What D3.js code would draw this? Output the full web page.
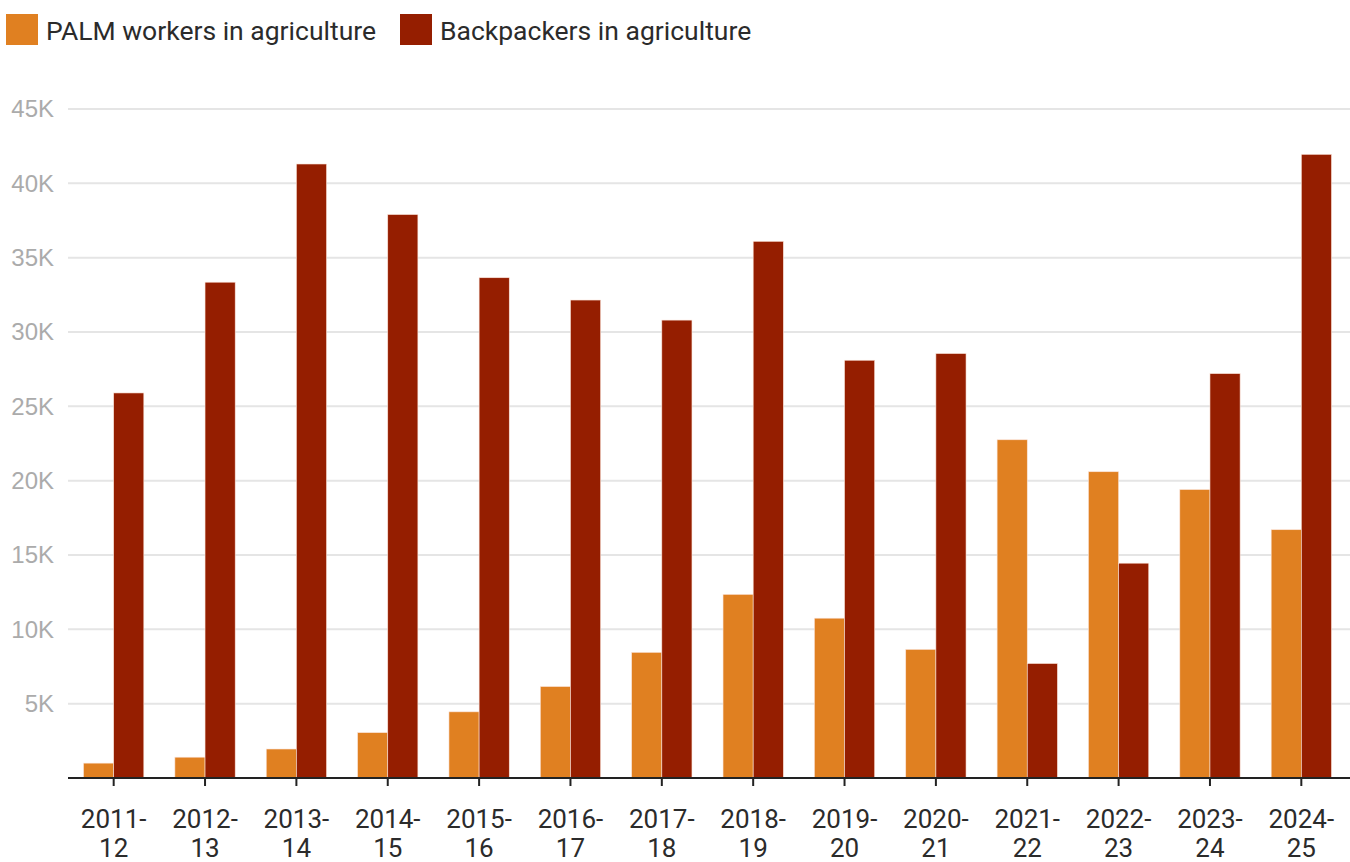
<!DOCTYPE html>
<html>
<head>
<meta charset="utf-8">
<script src="https://cdn.jsdelivr.net/npm/d3@7"></script>
<style>
  body { margin: 0; background: #fff; }
  text { font-family: Roboto, "Liberation Sans", sans-serif; }
</style>
</head>
<body>
<svg id="chart" width="1350" height="862"></svg>
<script>
let years = ['2011-12', '2012-13', '2013-14', '2014-15', '2015-16', '2016-17', '2017-18',
	'2018-19', '2019-20', '2020-21', '2021-22', '2022-23', '2023-24', '2024-25'];
let series_names = ['PALM workers in agriculture', 'Backpackers in agriculture'];
let palm = [1000, 1400, 1950, 3050, 4450, 6150, 8450, 12350, 10750, 8650, 22750, 20600, 19400, 16700];
let backpackers = [25900, 33350, 41300, 37900, 33650, 32150, 30800, 36100, 28100, 28550, 7700, 14450, 27200, 41950];
let y_ticks = [5000, 10000, 15000, 20000, 25000, 30000, 35000, 40000, 45000];

let colors = ['#e08021', '#951e00'];
let margin = {left: 68, right: 3, top: 109, bottom: 84};
let width = 1350, height = 862;

let svg = d3.select('#chart');

let x = d3.scaleBand()
	.domain(years)
	.range([margin.left, width - margin.right])
	.paddingInner(0.34)
	.paddingOuter(0.17);

let x_inner = d3.scaleBand()
	.domain(series_names)
	.range([0, x.bandwidth()]);

let y = d3.scaleLinear()
	.domain([0, 45000])
	.range([height - margin.bottom, margin.top]);

// gridlines
svg.append('g')
	.selectAll('line')
	.data(y_ticks)
	.enter().append('line')
	.attr('x1', margin.left)
	.attr('x2', width)
	.attr('y1', d => y(d))
	.attr('y2', d => y(d))
	.attr('stroke', '#e5e5e5')
	.attr('stroke-width', 2);

// y labels
svg.append('g')
	.selectAll('text')
	.data(y_ticks)
	.enter().append('text')
	.attr('x', 54)
	.attr('y', d => y(d))
	.attr('dy', '0.35em')
	.attr('text-anchor', 'end')
	.attr('fill', '#ababab')
	.style('font-family', '"Liberation Sans", Arial, sans-serif')
	.style('font-size', '24px')
	.text(d => d / 1000 + 'K');

// bars
let rows = years.map((yr, i) => ({year: yr, values: [palm[i], backpackers[i]]}));

let groups = svg.append('g')
	.selectAll('g')
	.data(rows)
	.enter().append('g')
	.attr('transform', d => `translate(${x(d.year)},0)`);

groups.selectAll('rect')
	.data(d => d.values.map((v, j) => ({name: series_names[j], value: v, j: j})))
	.enter().append('rect')
	.attr('x', d => x_inner(d.name))
	.attr('width', x_inner.bandwidth())
	.attr('y', d => y(d.value))
	.attr('height', d => y(0) - y(d.value))
	.attr('fill', d => colors[d.j])
	.attr('stroke', '#fbe3d8')
	.attr('stroke-width', 0.6);

// x axis
let x_axis = svg.append('g')
	.attr('transform', `translate(0,${y(0)})`)
	.call(d3.axisBottom(x).tickSize(8).tickSizeOuter(0).tickFormat(''));

x_axis.select('.domain')
	.attr('stroke', '#222')
	.attr('stroke-width', 2)
	.attr('d', `M${margin.left},0H${width}`);
x_axis.selectAll('.tick line')
	.attr('stroke', '#222')
	.attr('stroke-width', 2);

let x_labels = svg.append('g')
	.selectAll('text')
	.data(years)
	.enter().append('text')
	.attr('x', d => x(d) + x.bandwidth() / 2)
	.attr('y', 828)
	.attr('text-anchor', 'middle')
	.attr('fill', '#2b2b2b')
	.style('font-size', '26px');

x_labels.append('tspan')
	.attr('x', d => x(d) + x.bandwidth() / 2)
	.text(d => d.split('-')[0] + '-');
x_labels.append('tspan')
	.attr('x', d => x(d) + x.bandwidth() / 2)
	.attr('dy', 29)
	.text(d => d.split('-')[1]);

// legend
let legend_x = [6, 400];
let legend = svg.append('g')
	.selectAll('g')
	.data(series_names)
	.enter().append('g')
	.attr('transform', (d, i) => `translate(${legend_x[i]},14)`);

legend.append('rect')
	.attr('width', 32)
	.attr('height', 31)
	.attr('fill', (d, i) => colors[i]);

legend.append('text')
	.attr('x', 40)
	.attr('y', 16)
	.attr('dy', '0.36em')
	.attr('fill', '#2b2b2b')
	.style('font-size', '26.5px')
	.text(d => d);
</script>
</body>
</html>
